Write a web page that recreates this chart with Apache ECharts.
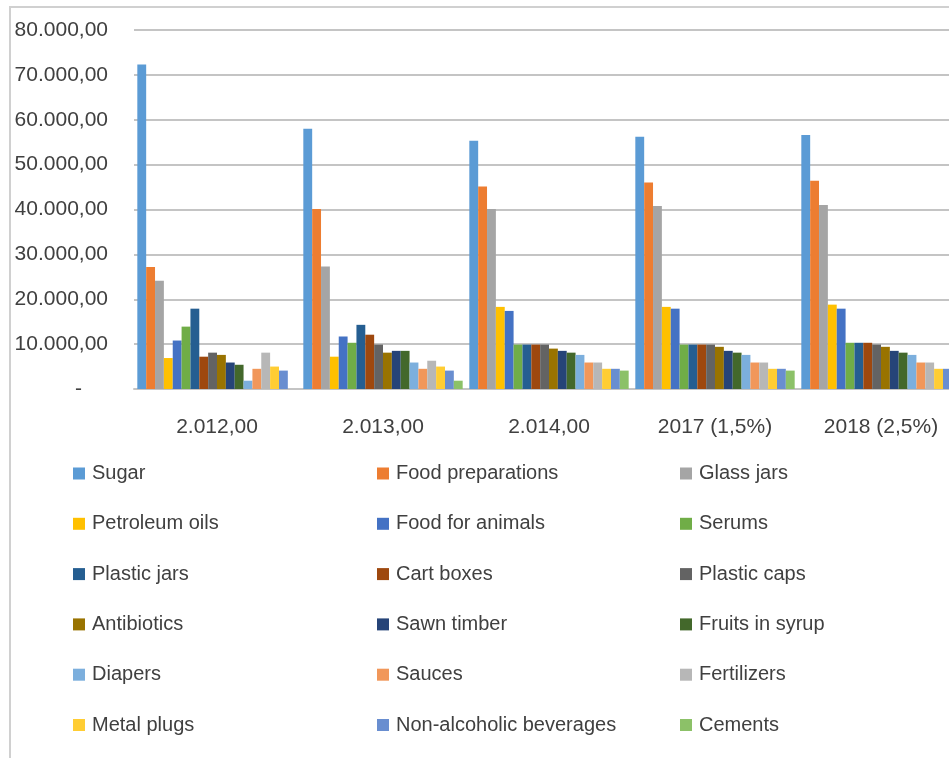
<!DOCTYPE html>
<html>
<head>
<meta charset="utf-8">
<script src="https://cdn.jsdelivr.net/npm/echarts@6/dist/echarts.min.js"></script>
<style>
  html, body { margin: 0; padding: 0; background: #fff; overflow: hidden; }
  /* the chart is wider than the window; its right edge is cut off */
  #chart { width: 980px; height: 758px; }
</style>
</head>
<body>
<div id="chart"></div>
<script>
// Category labels along the x axis
const years = ['2.012,00', '2.013,00', '2.014,00', '2017 (1,5%)', '2018 (2,5%)'];

// Product series, one value per year
const sugar            = [72300, 58000, 55300, 56200, 56600];
const foodPreparations = [27200, 40100, 45100, 46000, 46400];
const glassJars        = [24100, 27300, 40100, 40800, 41000];
const petroleumOils    = [6900, 7200, 18300, 18300, 18800];
const foodForAnimals   = [10800, 11700, 17400, 17900, 17900];
const serums           = [13900, 10300, 9900, 9900, 10300];
const plasticJars      = [17900, 14300, 9900, 9900, 10300];
const cartBoxes        = [7200, 12100, 9900, 9900, 10300];
const plasticCaps      = [8100, 9900, 9900, 9900, 9900];
const antibiotics      = [7600, 8100, 9000, 9400, 9400];
const sawnTimber       = [5900, 8500, 8500, 8500, 8500];
const fruitsInSyrup    = [5400, 8500, 8100, 8100, 8100];
const diapers          = [1850, 5900, 7600, 7600, 7600];
const sauces           = [4500, 4500, 5900, 5900, 5900];
const fertilizers      = [8100, 6300, 5900, 5900, 5900];
const metalPlugs       = [5000, 5000, 4500, 4500, 4500];
const nonAlcoholic     = [4100, 4100, 4500, 4500, 4500];
const cements          = [0, 1850, 4100, 4100, 4100];

const seriesDefs = [
  ['Sugar', sugar, '#5B9BD5'],
  ['Food preparations', foodPreparations, '#ED7D31'],
  ['Glass jars', glassJars, '#A5A5A5'],
  ['Petroleum oils', petroleumOils, '#FFC000'],
  ['Food for animals', foodForAnimals, '#4472C4'],
  ['Serums', serums, '#70AD47'],
  ['Plastic jars', plasticJars, '#255E91'],
  ['Cart boxes', cartBoxes, '#9E480E'],
  ['Plastic caps', plasticCaps, '#636363'],
  ['Antibiotics', antibiotics, '#997300'],
  ['Sawn timber', sawnTimber, '#264478'],
  ['Fruits in syrup', fruitsInSyrup, '#43682B'],
  ['Diapers', diapers, '#7CAFDD'],
  ['Sauces', sauces, '#F1975A'],
  ['Fertilizers', fertilizers, '#B7B7B7'],
  ['Metal plugs', metalPlugs, '#FFCD33'],
  ['Non-alcoholic beverages', nonAlcoholic, '#698ED0'],
  ['Cements', cements, '#8CC168']
];

const FONT = '"Liberation Sans", Arial, sans-serif';
const TEXT = '#404040';

function fmt(v) {
  if (v === 0) return '{d|-}';
  const s = String(Math.round(v)).replace(/\B(?=(\d{3})+(?!\d))/g, '.');
  return s + ',00';
}

// Three legend columns, items in row-major order
const names = seriesDefs.map(d => d[0]);
const cols = [[], [], []];
names.forEach((n, i) => cols[i % 3].push(n));
const colLeft = [68, 372, 675];
const legends = cols.map((data, c) => ({
  data: data,
  orient: 'vertical',
  left: colLeft[c],
  top: 458,
  itemWidth: 12,
  itemHeight: 12,
  itemGap: 29.3,
  icon: 'rect',
  selectedMode: false,
  textStyle: { fontFamily: FONT, fontSize: 20, color: TEXT, lineHeight: 21, padding: [0, 0, 0, 2] }
}));

const chart = echarts.init(document.getElementById('chart'));
chart.setOption({
  animation: false,
  backgroundColor: '#fff',
  graphic: [{
    type: 'rect',
    shape: { x: 10, y: 7, width: 1200, height: 1200 },
    style: { fill: 'none', stroke: '#d0d0d0', lineWidth: 2 },
    silent: true
  }],
  legend: legends,
  grid: { left: 134, top: 30, right: 16, bottom: 369, containLabel: false },
  xAxis: {
    type: 'category',
    data: years,
    axisTick: { show: false },
    axisLine: { lineStyle: { color: '#c4c4c4', width: 2 } },
    axisLabel: { fontFamily: FONT, fontSize: 21, color: TEXT, margin: 28 }
  },
  yAxis: {
    type: 'value',
    min: 0,
    max: 80000,
    interval: 10000,
    axisLine: { show: false },
    axisTick: { show: false },
    splitLine: { lineStyle: { color: '#c4c4c4', width: 2 } },
    axisLabel: {
      fontFamily: FONT, fontSize: 21, color: TEXT, margin: 26,
      formatter: fmt,
      rich: { d: { fontFamily: FONT, fontSize: 21, color: TEXT, padding: [0, 26, 0, 0] } }
    }
  },
  series: seriesDefs.map(([name, data, color]) => ({
    name: name,
    type: 'bar',
    data: data,
    barGap: '0%',
    barCategoryGap: '4%',
    itemStyle: { color: color }
  }))
});
</script>
</body>
</html>
